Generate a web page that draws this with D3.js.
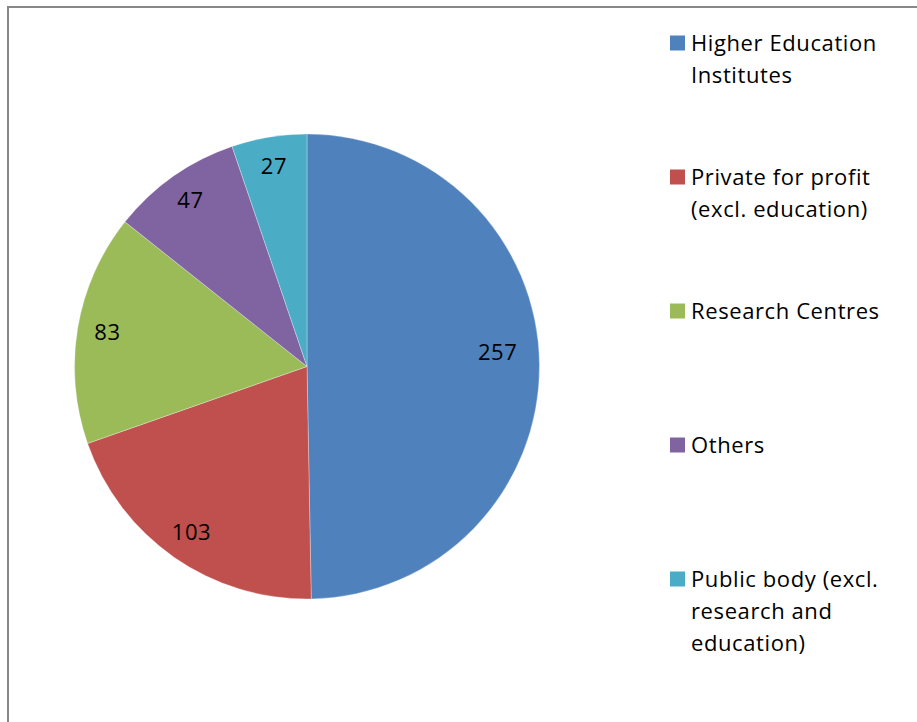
<!DOCTYPE html>
<html lang="en">
<head>
    <meta charset="UTF-8">
    <title>Organisation types</title>
    <style>
        body {
            margin: 0;
            padding: 0;
            background-color: white;
            font-family: "Open Sans", Lato, sans-serif;
        }
        .label, .legend text {
            font-size: 22px;
            letter-spacing: 0.6px;
            fill: #000;
        }
    </style>
</head>
<body>
    <div id="container"></div>

    <script src="https://d3js.org/d3.v7.min.js"></script>
    <script>
        // Data
        const categories = [
            ["Higher Education", "Institutes"],
            ["Private for profit", "(excl. education)"],
            ["Research Centres"],
            ["Others"],
            ["Public body (excl.", "research and", "education)"]
        ];
        const values = [257, 103, 83, 47, 27];
        const colors = ["#4F81BD", "#C0504D", "#9BBB59", "#8064A2", "#4BACC6"];

        const width = 917;
        const height = 722;

        const svg = d3.select("#container")
            .append("svg")
            .attr("width", width)
            .attr("height", height);

        // Chart area frame (only left and top edges visible)
        svg.append("path")
            .attr("d", `M8,${height} V7 H${width}`)
            .attr("fill", "none")
            .attr("stroke", "#878787")
            .attr("stroke-width", 2);

        const cx = 307, cy = 366.5, radius = 232.5;

        const pie = d3.pie().sort(null).value(d => d);
        const arcs = pie(values);
        const arc = d3.arc().innerRadius(0).outerRadius(radius);
        // big slice label sits a bit closer to the centre
        const labelPos = d => {
            const big = (d.endAngle - d.startAngle) > Math.PI * 0.8;
            const r = big ? radius * 0.82 : radius * 0.87;
            const c = d3.arc().innerRadius(r).outerRadius(r).centroid(d);
            if (big) c[1] -= 12;
            return c;
        };

        const g = svg.append("g").attr("transform", `translate(${cx},${cy})`);

        g.selectAll("path.slice")
            .data(arcs)
            .enter()
            .append("path")
            .attr("class", "slice")
            .attr("d", arc)
            .attr("fill", (d, i) => colors[i])
            .attr("stroke", "#ffffff")
            .attr("stroke-width", 0.6)
            .attr("stroke-opacity", 0.5);

        g.selectAll("text.label")
            .data(arcs)
            .enter()
            .append("text")
            .attr("class", "label")
            .attr("text-anchor", "middle")
            .attr("dy", "0.33em")
            .attr("transform", d => `translate(${labelPos(d)})`)
            .text(d => d.data);

        // Legend
        const legend = svg.append("g").attr("class", "legend");
        const legendY = d3.scalePoint()
            .domain(d3.range(categories.length))
            .range([43, 579]);

        const item = legend.selectAll("g")
            .data(categories)
            .enter()
            .append("g")
            .attr("transform", (d, i) => `translate(670,${legendY(i)})`);

        item.append("rect")
            .attr("x", 0)
            .attr("y", -7.5)
            .attr("width", 15)
            .attr("height", 15)
            .attr("fill", (d, i) => colors[i]);

        item.append("text")
            .attr("x", 21)
            .attr("y", 8)
            .selectAll("tspan")
            .data(d => d)
            .enter()
            .append("tspan")
            .attr("x", 21)
            .attr("dy", (d, i) => i === 0 ? 0 : 32)
            .text(d => d);
    </script>
</body>
</html>
